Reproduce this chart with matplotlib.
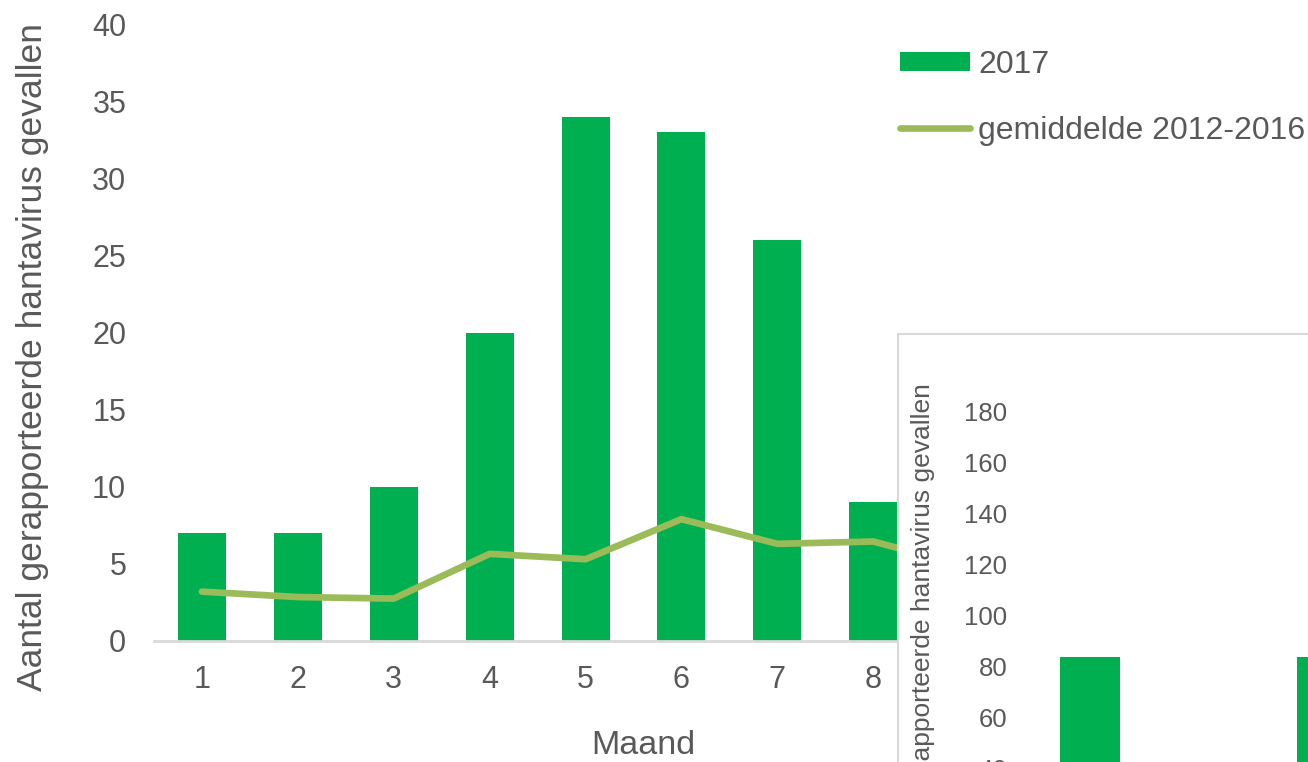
import matplotlib

matplotlib.use("Agg")
import matplotlib.pyplot as plt
from matplotlib.lines import Line2D
from matplotlib.patches import Patch

# Monthly hantavirus reports, 2017 vs. the 2012-2016 average
months = [1, 2, 3, 4, 5, 6, 7, 8, 9, 10]
cases_2017 = [7, 7, 10, 20, 34, 33, 26, 9]
mean_2012_2016 = [3.2, 2.85, 2.75, 5.65, 5.3, 7.9, 6.3, 6.45, 4.8]

# Yearly totals shown in the overlaid panel
inset_categories = ["A", "B"]
inset_counts = [84, 84]

BAR_GREEN = "#00B050"
LINE_GREEN = "#9BBB59"
TEXT_GREY = "#595959"
AXIS_GREY = "#D9D9D9"

W, H = 1308, 762
plt.rcParams["font.family"] = ["Liberation Sans", "DejaVu Sans"]


def fx(px):
    return px / W


def fy(py):
    return 1 - py / H


fig = plt.figure(figsize=(W / 100, H / 100), dpi=100)

# main monthly chart
slot = 95.9
left_px, base_px, top_px = 154, 641, 24
ax = fig.add_axes([fx(left_px), fy(base_px), len(months) * slot / W, (base_px - top_px) / H])
ax.bar(months[: len(cases_2017)], cases_2017, width=0.5, color=BAR_GREEN, zorder=2)
ax.plot(
    months[: len(mean_2012_2016)],
    mean_2012_2016,
    color=LINE_GREEN,
    linewidth=4.8,
    solid_capstyle="round",
    solid_joinstyle="round",
    zorder=3,
)
ax.set_xlim(0.5, len(months) + 0.5)
ax.set_ylim(0, 40)
ax.set_yticks(range(0, 41, 5))
ax.set_xticks(months)
for side in ("top", "right", "left"):
    ax.spines[side].set_visible(False)
ax.spines["bottom"].set_color(AXIS_GREY)
ax.spines["bottom"].set_linewidth(2)
ax.tick_params(axis="both", length=0, labelsize=22, labelcolor=TEXT_GREY)
ax.tick_params(axis="x", pad=17)
ax.tick_params(axis="y", pad=20)

fig.text(fx(643), fy(745), "Maand", ha="center", va="center", fontsize=24.5, color=TEXT_GREY)
fig.text(
    fx(33), fy(357), "Aantal gerapporteerde hantavirus gevallen",
    rotation=90, ha="center", va="center", fontsize=25.5, color=TEXT_GREY,
)

handles = [
    Patch(facecolor=BAR_GREEN, edgecolor="none"),
    Line2D([], [], color=LINE_GREEN, linewidth=4.8, solid_capstyle="round"),
]
fig.legend(
    handles,
    ["2017", "gemiddelde 2012-2016"],
    loc="upper left",
    bbox_to_anchor=(fx(900), fy(50)),
    frameon=False,
    fontsize=23,
    labelcolor=TEXT_GREY,
    handlelength=2.2,
    handleheight=0.52,
    handletextpad=0.25,
    labelspacing=1.12,
    borderpad=0,
    borderaxespad=0,
)

# overlaid yearly panel with its own frame
frame = fig.add_axes([fx(898), fy(900), 0.5, (900 - 334) / H])
frame.set_facecolor("white")
frame.set_xticks([])
frame.set_yticks([])
for spine in frame.spines.values():
    spine.set_color(AXIS_GREY)
    spine.set_linewidth(1.5)

year_slot = 237
inset_left, inset_zero, inset_top = 1020, 871, 361
inset_width = 600
inset = fig.add_axes(
    [fx(inset_left), fy(inset_zero), inset_width / W, (inset_zero - inset_top) / H]
)
inset.patch.set_alpha(0)
positions = range(len(inset_categories))
inset.bar(positions, inset_counts, width=60 / year_slot, color=BAR_GREEN)
inset.set_xlim(-(1090 - inset_left) / year_slot, -(1090 - inset_left) / year_slot + inset_width / year_slot)
inset.set_ylim(0, 200)
inset.set_yticks(range(0, 181, 20))
inset.set_xticks([])
for spine in inset.spines.values():
    spine.set_visible(False)
inset.tick_params(axis="y", length=0, labelsize=18.5, labelcolor=TEXT_GREY, pad=9)

fig.text(
    fx(923), fy(632), "Aantal gerapporteerde hantavirus gevallen",
    rotation=90, ha="center", va="center", fontsize=19, color=TEXT_GREY,
)

fig.savefig("out.png", dpi=100)
